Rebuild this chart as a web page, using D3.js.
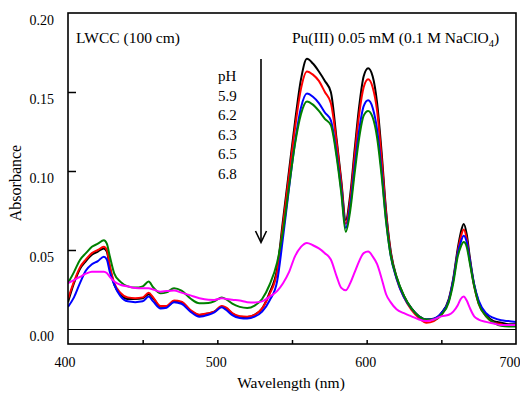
<!DOCTYPE html>
<html>
<head>
<meta charset="utf-8">
<script src="https://cdn.jsdelivr.net/npm/d3@7"></script>
<style>
  body { margin: 0; background: #fff; }
  svg { display: block; }
</style>
</head>
<body>
<div id="chart"></div>
<script>
var wavelengths = [400,404,408,412,416,420,424,426,428,431, 435,440,445,450,454,457,462,466,471,476,
  482,488,494,498,503,506,510,515,520,525, 530,535,540,544,548,552,556,560,564,568,
  572,576,580,583,586,589,592,595,598,601, 604,607,610,613,616,620,625,630,635,640,
  645,650,655,658,661,663,665,667,669,672, 675,680,685,690,695,700]

var absPH59 = [.017,.029,.038,.043,.047,.049,.051,.049,.039,.028, .022,.019,.019,.0195,.022,.0195,.014,.014,.0175,.017,
  .0115,.0088,.0098,.011,.0142,.013,.0098,.0078,.0076,.009, .013,.023,.038,.069,.100,.131,.158,.171,.168,.163,
  .157,.150,.119,.094,.069,.085,.114,.141,.160,.165, .160,.143,.112,.075,.050,.033,.021,.013,.008,.006,
  .0065,.010,.019,.032,.051,.061,.0665,.060,.046,.028, .017,.009,.005,.004,.003,.003]

var absPH62 = [.019,.030,.039,.044,.048,.050,.052,.050,.040,.029, .023,.020,.0195,.020,.023,.020,.0145,.0146,.018,.0173,
  .012,.009,.010,.011,.0146,.0135,.010,.008,.0078,.009, .013,.022,.036,.066,.097,.127,.152,.163,.161,.157,
  .150,.143,.117,.092,.0666,.082,.110,.136,.153,.158, .153,.138,.108,.073,.049,.032,.020,.012,.007,.004,
  .005,.009,.018,.031,.049,.058,.063,.057,.044,.027, .016,.008,.004,.003,.002,.002]

var absPH63 = [.014,.020,.029,.037,.041,.043,.0458,.044,.036,.028, .021,.0175,.017,.0175,.0205,.0175,.013,.0135,.017,.016,
  .011,.0078,.009,.0105,.0137,.012,.0088,.007,.0066,.0078, .011,.018,.030,.058,.089,.118,.140,.149,.147,.143,
  .137,.132,.110,.088,.064,.078,.103,.126,.141,.1447, .140,.126,.100,.069,.047,.032,.020,.013,.008,.006,
  .0065,.010,.018,.031,.048,.055,.059,.055,.044,.028, .018,.010,.007,.0055,.005,.0045]

var absPH65 = [.029,.036,.0437,.048,.052,.054,.0562,.054,.046,.035, .030,.027,.0262,.027,.030,.0264,.0226,.0232,.0258,.0243,
  .0193,.0163,.0165,.0175,.020,.0188,.016,.014,.0133,.0148, .019,.028,.042,.062,.090,.117,.136,.144,.142,.138,
  .133,.129,.108,.086,.0615,.075,.099,.121,.135,.138, .134,.121,.097,.068,.047,.033,.021,.013,.008,.006,
  .006,.009,.017,.029,.046,.052,.055,.052,.042,.027, .016,.008,.004,.002,.0015,.0015]

var absPH68 = [.029,.031,.033,.035,.0363,.0363,.0363,.0355,.033,.030, .028,.027,.026,.0258,.0258,.025,.0236,.024,.0243,.023,
  .0213,.0195,.0185,.0184,.0195,.019,.0185,.018,.017,.0168, .0175,.0205,.024,.029,.036,.046,.052,.0545,.053,.051,
  .048,.044,.033,.026,.0245,.029,.036,.043,.048,.049, .046,.041,.032,.022,.017,.0125,.010,.008,.006,.005,
  .006,.008,.009,.011,.015,.019,.0205,.018,.0135,.008, .006,.0045,.0035,.0025,.0025,.0025]

var phLabels = ['5.9', '6.2', '6.3', '6.5', '6.8']
var seriesColors = ['#000000', '#ff0000', '#0000ff', '#008000', '#ff00ff']
var xTicks = [400, 450, 500, 550, 600, 650, 700]
var xTickLabels = [400, 500, 600, 700]
var yTicks = [0, 0.05, 0.10, 0.15, 0.20]

var series = [absPH59, absPH62, absPH63, absPH65, absPH68].map((vals, i) => ({
  ph: phLabels[i],
  color: seriesColors[i],
  points: wavelengths.map((w, j) => [w, vals[j]])
}))

var serif = '"Liberation Serif", "DejaVu Serif", serif'
var width = 520, height = 394
var svg = d3.select('#chart').append('svg')
  .attr('width', width).attr('height', height)
  .attr('font-family', serif)

var x = d3.scaleLinear().domain([400, 700]).range([68, 516])
var y = d3.scaleLinear().domain([-0.0095, 0.2]).range([344, 13])

svg.append('clipPath').attr('id', 'plot-clip')
  .append('rect')
  .attr('x', x(400)).attr('y', y(0.2))
  .attr('width', x(700) - x(400)).attr('height', y(-0.0095) - y(0.2))

// zero line
svg.append('line')
  .attr('x1', x(400)).attr('x2', x(700))
  .attr('y1', Math.round(y(0)) + 0.5).attr('y2', Math.round(y(0)) + 0.5)
  .attr('stroke', '#000').attr('stroke-width', 1)

var line = d3.line()
  .x(d => x(d[0]))
  .y(d => y(d[1]))
  .curve(d3.curveMonotoneX)

svg.append('g').attr('clip-path', 'url(#plot-clip)')
  .selectAll('path').data(series).join('path')
  .attr('d', d => line(d.points))
  .attr('fill', 'none')
  .attr('stroke', d => d.color)
  .attr('stroke-width', 2)
  .attr('stroke-linejoin', 'round')

// frame
svg.append('rect')
  .attr('x', x(400)).attr('y', y(0.2))
  .attr('width', x(700) - x(400)).attr('height', y(-0.0095) - y(0.2))
  .attr('fill', 'none').attr('stroke', '#000').attr('stroke-width', 1.6)

// y ticks point inward, labels sit a little below the tick (as in the original)
var yAxis = d3.axisRight(y).tickValues(yTicks.filter(d => d > 0 && d < 0.2))
  .tickSize(8).tickFormat('')
svg.append('g').attr('transform', `translate(${x(400)},0)`).call(yAxis)
  .call(g => g.select('.domain').remove())
  .selectAll('line').attr('stroke-width', 1.5)

svg.append('g').selectAll('text').data(yTicks).join('text')
  .attr('x', 54)
  .attr('y', d => y(d) + 7)
  .attr('dy', '0.35em')
  .attr('text-anchor', 'end')
  .attr('font-size', 14)
  .text(d => d3.format('.2f')(d))

var xAxis = d3.axisTop(x).tickValues(xTicks.slice(1, -1)).tickSize(4).tickFormat('')
svg.append('g').attr('transform', `translate(0,${y(-0.0095)})`).call(xAxis)
  .call(g => g.select('.domain').remove())
  .selectAll('line').attr('stroke-width', 1.5)

svg.append('g').selectAll('text').data(xTickLabels).join('text')
  .attr('x', (d, i) => x(d) + (i == 0 ? -3 : i == xTickLabels.length - 1 ? -6 : -1))
  .attr('y', 367)
  .attr('text-anchor', 'middle')
  .attr('font-size', 14)
  .text(d => d)

svg.append('text')
  .attr('x', 291).attr('y', 388)
  .attr('text-anchor', 'middle')
  .attr('font-size', 15.5)
  .text('Wavelength (nm)')

svg.append('text')
  .attr('transform', 'translate(21,183) rotate(-90)')
  .attr('text-anchor', 'middle')
  .attr('font-size', 16)
  .text('Absorbance')

svg.append('text')
  .attr('x', 76).attr('y', 43)
  .attr('font-size', 15.5)
  .text('LWCC (100 cm)')

var title = svg.append('text')
  .attr('x', 292).attr('y', 43)
  .attr('font-size', 15.5)
title.append('tspan').text('Pu(III) 0.05 mM (0.1 M NaClO')
title.append('tspan').attr('dy', 4).attr('font-size', 10.5).text('4')
title.append('tspan').attr('dy', -4).text(')')

// pH list with arrow (absorbance falls as pH rises)
var legend = svg.append('g')
legend.selectAll('text').data(['pH'].concat(phLabels)).join('text')
  .attr('x', 218)
  .attr('y', (d, i) => 81 + i * 19.6)
  .attr('font-size', 15)
  .text(d => d)

legend.append('line')
  .attr('x1', 261).attr('x2', 261)
  .attr('y1', 59).attr('y2', 242)
  .attr('stroke', '#000').attr('stroke-width', 1.6)
legend.append('path')
  .attr('d', 'M255.5,231 L261,242.5 L266.5,231')
  .attr('fill', 'none').attr('stroke', '#000').attr('stroke-width', 1.6)
</script>
</body>
</html>
